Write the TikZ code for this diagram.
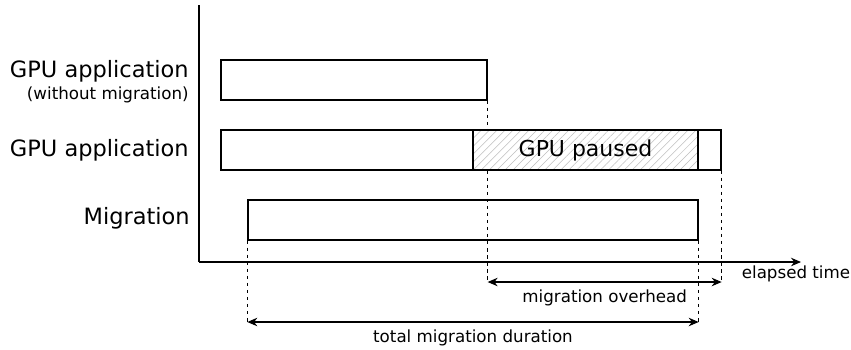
\documentclass[tikz,border=0pt]{standalone}
\usepackage{fontspec}
\setmainfont{DejaVu Sans}
\usetikzlibrary{arrows.meta, positioning, patterns.meta, calc}
\tikzset{
  bar/.style = {draw=black, fill=white, line width=0.75pt, inner sep=0pt,
    minimum height=8mm},
  pau/.style = {draw=black, line width=0.75pt, inner sep=0pt, minimum height=8mm,
    pattern={Lines[angle=45, distance=3.2pt, line width=0.3pt]},
    pattern color=black!25, font=\fontsize{12.5}{14}\selectfont},
  rowlab/.style = {font=\fontsize{12.8}{14}\selectfont, anchor=east, inner sep=0pt},
  sublab/.style = {font=\fontsize{9.5}{11}\selectfont, anchor=east, inner sep=0pt},
  axe/.style = {line width=0.6pt},
  guia/.style = {dash pattern=on 2pt off 2pt, line width=0.6pt},
  medida/.style = {{Stealth[length=2mm, width=1.7mm]}-{Stealth[length=2mm, width=1.7mm]},
    line width=0.6pt},
  medrot/.style = {font=\fontsize{9.5}{11}\selectfont, inner sep=0pt}
}

\begin{document}
\begin{tikzpicture}[x=0.2mm, y=-0.2mm]
  \useasboundingbox (0,0) rectangle (851,349);
  % axes
  \coordinate (top) at (199,5);
  \coordinate (o) at (199,262);
  \coordinate (tip) at (801,262);
  \draw [axe] (top) -- (o);
  \draw [axe, -{Stealth[length=2mm, width=1.7mm]}] (o) -- (tip);
  \node [medrot] (et) at (796,274) {elapsed time};
  % bars
  \node [bar, minimum width=53.2mm] (app1) at (354,80) {};
  \node [bar, minimum width=100mm] (app2) at (471,150) {};
  \node [pau, minimum width=45mm] (pause) at (585.5,150) {GPU paused};
  \node [bar, minimum width=90mm] (mig) at (473,220) {};
  % row labels
  \node [rowlab] (l1) at (189,71) {GPU application};
  \node [sublab] (l1b) at (189,95) {(without migration)};
  \node [rowlab] (l2) at (189,150) {GPU application};
  \node [rowlab] (l3) at (190,218) {Migration};
  % measures
  \coordinate (ovy) at (0,282);
  \coordinate (toty) at (0,322);
  \coordinate (ovl) at (app1.south east |- ovy);
  \coordinate (ovr) at (app2.south east |- ovy);
  \coordinate (tl) at (mig.south west |- toty);
  \coordinate (tr) at (mig.south east |- toty);
  \draw [guia] (app1.south east) -- (app1.south east |- app2.north);
  \draw [guia] (app1.south east |- app2.south) -- (ovl);
  \draw [guia] (app2.south east) -- (ovr);
  \draw [guia] (mig.south west) -- (tl);
  \draw [guia] (mig.south east) -- (tr);
  \draw [medida] (ovl) -- (ovr);
  \draw [medida] (tl) -- (tr);
  \node [medrot, below=1.4mm of $(ovl)!0.5!(ovr)$] (ovlab) {migration overhead};
  \node [medrot, below=1.4mm of $(tl)!0.5!(tr)$] (totlab) {total migration duration};
\end{tikzpicture}
\end{document}
